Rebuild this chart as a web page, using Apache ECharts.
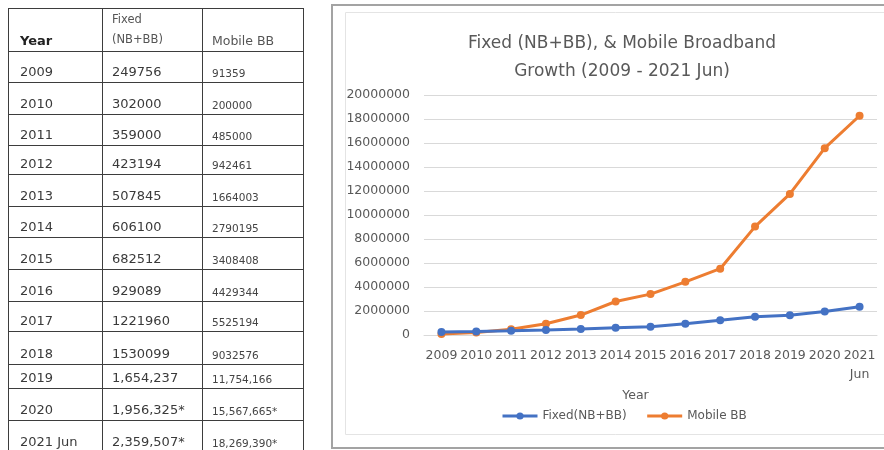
<!DOCTYPE html>
<html>
<head>
<meta charset="utf-8">
<script src="https://cdn.jsdelivr.net/npm/echarts@6/dist/echarts.min.js"></script>
<style>
  html, body { margin: 0; padding: 0; background: #ffffff; }
  #page { position: relative; width: 884px; height: 450px; overflow: hidden; background: #ffffff; }
  #chart { position: absolute; left: 0; top: 0; width: 884px; height: 450px; }
  #tableWrap { position: absolute; left: 8px; top: 8px; }
  table { border-collapse: collapse; table-layout: fixed; font-family: "DejaVu Sans", sans-serif; color: #3a3a3a; }
  td { border: 1.5px solid #3d3d3d; padding: 0; vertical-align: bottom; white-space: nowrap; overflow: hidden; }
  td.c1 { padding-left: 11px; font-size: 13px; line-height: 15px; padding-bottom: 3px; }
  td.c2 { padding-left: 9px; font-size: 13px; line-height: 15px; padding-bottom: 3px; }
  td.c3 { padding-left: 9px; font-size: 10.5px; line-height: 12px; padding-bottom: 3px; color: #444; }
  td.h1 { font-weight: bold; color: #222; }
  td.h2 { font-size: 11.5px; line-height: 20px; color: #555; padding-bottom: 2px; }
  td.h3 { font-size: 12.5px; color: #555; line-height: 15px; }
</style>
</head>
<body>
<div id="page">
  <div id="chart"></div>
  <div id="tableWrap"></div>
</div>
<script>
// Subscriber counts per year, as listed in the table
const years = ['2009', '2010', '2011', '2012', '2013', '2014', '2015', '2016', '2017', '2018', '2019', '2020', '2021 Jun'];
const fixedText = ['249756', '302000', '359000', '423194', '507845', '606100', '682512', '929089', '1221960', '1530099', '1,654,237', '1,956,325*', '2,359,507*'];
const mobileText = ['91359', '200000', '485000', '942461', '1664003', '2790195', '3408408', '4429344', '5525194', '9032576', '11,754,166', '15,567,665*', '18,269,390*'];
const yTicks = [0, 2000000, 4000000, 6000000, 8000000, 10000000, 12000000, 14000000, 16000000, 18000000, 20000000];

// Plot values are parsed from the same strings shown in the table
const toNumber = s => Number(s.replace(/[,*]/g, ''));
const fixedValues = fixedText.map(toNumber);
const mobileValues = mobileText.map(toNumber);

// ---- data table ----
const colWidths = [94, 100, 101];
const rowHeights = [43, 31, 32, 31, 29, 32, 31, 32, 32, 30, 33, 24, 32, 32];
let html = '<table><colgroup>' + colWidths.map(w => '<col style="width:' + w + 'px">').join('') + '</colgroup>';
html += '<tr style="height:' + rowHeights[0] + 'px"><td class="c1 h1">Year</td>' +
        '<td class="c2 h2">Fixed<br>(NB+BB)</td><td class="c3 h3">Mobile BB</td></tr>';
years.forEach((y, i) => {
  html += '<tr style="height:' + rowHeights[i + 1] + 'px"><td class="c1">' + y + '</td><td class="c2">' +
          fixedText[i] + '</td><td class="c3">' + mobileText[i] + '</td></tr>';
});
html += '</table>';
document.getElementById('tableWrap').innerHTML = html;

// ---- line chart ----
const chart = echarts.init(document.getElementById('chart'), null, { renderer: 'canvas' });
const fontFamily = '"DejaVu Sans", sans-serif';
const grey = '#595959';

chart.setOption({
  backgroundColor: 'transparent',
  animation: false,
  title: {
    text: 'Fixed (NB+BB), & Mobile Broadband\nGrowth (2009 - 2021 Jun)',
    left: 617,
    top: 25,
    textAlign: 'center',
    textStyle: { fontFamily, fontSize: 17, fontWeight: 'normal', color: grey, lineHeight: 28 }
  },
  graphic: [
    { type: 'rect', shape: { x: 332, y: 5, width: 620, height: 443 }, style: { fill: 'none', stroke: '#a3a3a3', lineWidth: 2 }, silent: true, z: -10 },
    { type: 'rect', shape: { x: 345.5, y: 12.5, width: 600, height: 422 }, style: { fill: 'none', stroke: '#e4e4e4', lineWidth: 1 }, silent: true, z: -10 }
  ],
  grid: { left: 424, right: 7, top: 95, bottom: 115 },
  legend: {
    left: 496,
    top: 405,
    itemWidth: 35,
    itemHeight: 9,
    itemGap: 19,
    lineStyle: { width: 3 },
    textStyle: { fontFamily, fontSize: 12, color: grey },
    data: ['Fixed(NB+BB)', 'Mobile BB']
  },
  xAxis: {
    type: 'category',
    data: years,
    boundaryGap: true,
    name: 'Year',
    nameLocation: 'middle',
    nameGap: 48,
    nameTextStyle: { fontFamily, fontSize: 12.5, color: grey, padding: [0, 30, 0, 0] },
    axisLine: { lineStyle: { color: '#d9d9d9', width: 1 } },
    axisTick: { show: false },
    axisLabel: {
      interval: 0,
      margin: 11,
      fontFamily,
      fontSize: 12.5,
      lineHeight: 19,
      color: grey,
      formatter: v => v.replace(' ', '\n')
    }
  },
  yAxis: {
    type: 'value',
    min: yTicks[0],
    max: yTicks[yTicks.length - 1],
    interval: yTicks[1] - yTicks[0],
    axisLine: { show: false },
    axisTick: { show: false },
    axisLabel: { margin: 14, fontFamily, fontSize: 12.5, color: grey, formatter: v => String(v) },
    splitLine: { lineStyle: { color: '#d9d9d9', width: 1 } }
  },
  series: [
    {
      name: 'Fixed(NB+BB)',
      type: 'line',
      data: fixedValues,
      symbol: 'circle',
      symbolSize: 8,
      color: '#4472C4',
      lineStyle: { width: 3, color: '#4472C4' },
      itemStyle: { color: '#4472C4' },
      z: 3
    },
    {
      name: 'Mobile BB',
      type: 'line',
      data: mobileValues,
      symbol: 'circle',
      symbolSize: 8,
      color: '#ED7D31',
      lineStyle: { width: 3, color: '#ED7D31' },
      itemStyle: { color: '#ED7D31' },
      z: 2
    }
  ]
});
</script>
</body>
</html>
